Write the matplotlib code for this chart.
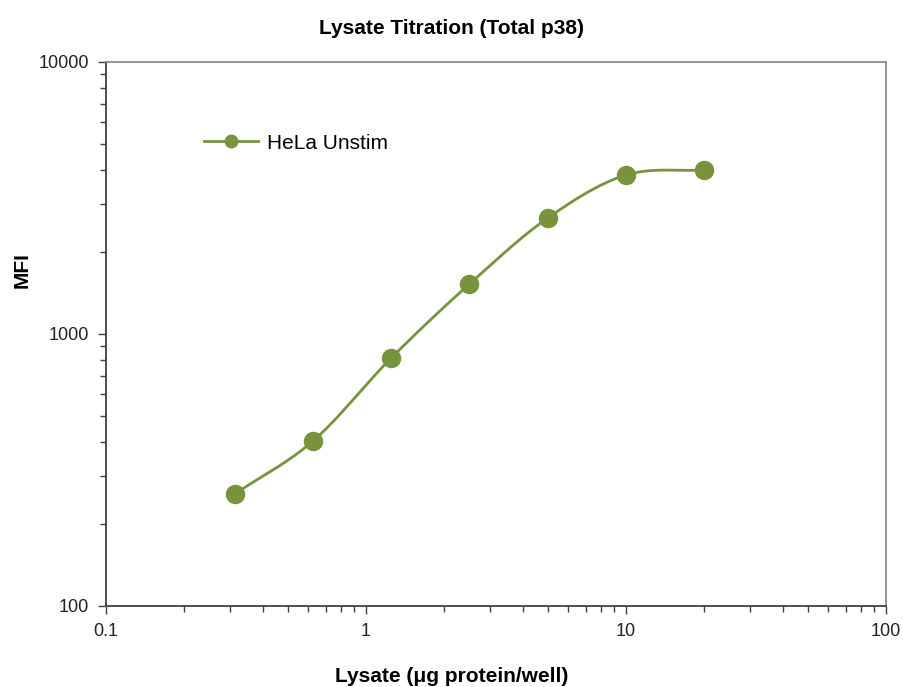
import numpy as np
import matplotlib.pyplot as plt
from matplotlib import font_manager

# lysate titration data
lysate_ug = [0.3125, 0.625, 1.25, 2.5, 5, 10, 20]
mfi = [258, 404, 816, 1527, 2670, 3842, 4009]
series_label = "HeLa Unstim"
GREEN = "#77933C"

names = {f.name for f in font_manager.fontManager.ttflist}
narrow = "Liberation Sans Narrow" if "Liberation Sans Narrow" in names else "Liberation Sans"
plt.rcParams['font.family'] = ['Liberation Sans', 'DejaVu Sans']


def smooth_curve(xs, ys, n=30):
	# Catmull-Rom through the points in log-log space (like Excel smoothed lines)
	lx, ly = np.log10(xs), np.log10(ys)
	px = np.concatenate([[2 * lx[0] - lx[1]], lx, [2 * lx[-1] - lx[-2]]])
	py = np.concatenate([[2 * ly[0] - ly[1]], ly, [2 * ly[-1] - ly[-2]]])
	out_x, out_y = [], []
	t = np.linspace(0, 1, n)
	for i in range(1, len(px) - 2):
		for p, out in ((px, out_x), (py, out_y)):
			p0, p1, p2, p3 = p[i - 1], p[i], p[i + 1], p[i + 2]
			v = 0.5 * (2 * p1 + (-p0 + p2) * t + (2 * p0 - 5 * p1 + 4 * p2 - p3) * t ** 2
					   + (-p0 + 3 * p1 - 3 * p2 + p3) * t ** 3)
			out.extend(v)
	return 10 ** np.array(out_x), 10 ** np.array(out_y)


fig = plt.figure(figsize=(9.04, 6.87), dpi=100)
ax = fig.add_axes([106 / 904, 1 - 606 / 687, 780 / 904, 544 / 687])

sx, sy = smooth_curve(lysate_ug, mfi)
ax.plot(sx, sy, color=GREEN, lw=2)
ax.plot(lysate_ug, mfi, 'o', color=GREEN, ms=13, mec=GREEN)
# legend proxy
ax.plot([], [], '-o', color=GREEN, lw=2, ms=9, label=series_label)

ax.set_xscale('log')
ax.set_yscale('log')
ax.set_xlim(0.1, 100)
ax.set_ylim(100, 10000)

ax.set_xticks([0.1, 1, 10, 100])
ax.set_xticklabels(['0.1', '1', '10', '100'])
ax.set_yticks([100, 1000, 10000])
ax.set_yticklabels(['100', '1000', '10000'])
ax.tick_params(which='both', direction='out', color='#404040')
ax.tick_params(which='major', length=6, width=1, labelsize=13, pad=6)
ax.tick_params(which='minor', length=4, width=1)
for lab in ax.get_xticklabels() + ax.get_yticklabels():
	lab.set_fontfamily(narrow)
	lab.set_color('#222222')

for s in ('left', 'bottom'):
	ax.spines[s].set_color('#404040')
	ax.spines[s].set_linewidth(1.3)
for s in ('top', 'right'):
	ax.spines[s].set_color('#8c8c8c')
	ax.spines[s].set_linewidth(1.3)

fig.text(0.5, 1 - 28 / 687, "Lysate Titration (Total p38)", ha='center', va='center',
		 fontsize=15, fontweight='bold', family=narrow)
fig.text(0.5, 1 - 676 / 687, "Lysate (\u03bcg protein/well)", ha='center', va='center',
		 fontsize=15, fontweight='bold', family=narrow)
fig.text(22 / 904, 1 - 270 / 687, "MFI", ha='center', va='center', rotation=90,
		 fontsize=15, fontweight='bold')

ax.legend(loc='center left', bbox_to_anchor=(0.115, 0.851), frameon=False,
		  fontsize=15, handlelength=2.6, handletextpad=0.4, borderaxespad=0)

fig.savefig("out.png", dpi=100)
